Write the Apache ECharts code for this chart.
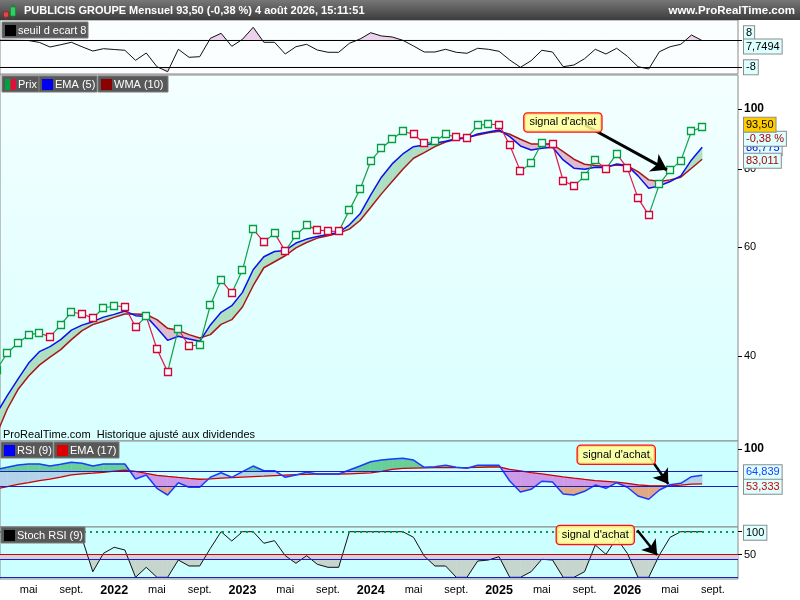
<!DOCTYPE html>
<html><head><meta charset="utf-8"><title>PUBLICIS GROUPE Mensuel</title>
<script src="https://cdn.jsdelivr.net/npm/echarts@6.0.0/dist/echarts.min.js"></script>
<style>html,body{margin:0;padding:0;background:#fff;}#chart{width:800px;height:600px;}</style>
</head><body><div id="chart"></div>
<script>
const FONT = "'Liberation Sans', Arial, sans-serif";
// month index: 0 = janv. 2021 ; first value = févr. 2021, last = août 2026
const firstMonth = 1;
const price = [38.05, 40.47, 42.0, 43.27, 43.59, 42.95, 44.9, 47.11, 46.76, 46.07, 47.81, 48.17, 48.08, 44.57, 46.34, 41.08, 37.73, 44.24, 41.53, 41.69, 48.35, 53.03, 50.54, 55.03, 64.06, 61.05, 63.1, 59.04, 62.63, 65.0, 63.88, 63.57, 63.5, 68.73, 74.27, 82.4, 86.46, 89.39, 92.07, 91.06, 88.08, 88.73, 91.06, 90.06, 89.73, 94.14, 94.5, 94.39, 87.44, 79.43, 81.78, 88.08, 87.84, 76.63, 75.14, 77.95, 82.7, 80.09, 84.66, 80.3, 71.87, 67.48, 75.69, 79.71, 82.5, 92.07, 93.5];
const ema5 = [32.33, 34.56, 36.74, 38.98, 40.67, 41.43, 42.52, 44.04, 44.87, 45.45, 46.22, 46.70, 47.29, 46.47, 46.35, 44.41, 42.41, 43.05, 42.63, 42.26, 44.90, 47.05, 48.22, 50.66, 55.10, 57.82, 58.96, 59.18, 60.83, 61.73, 62.33, 62.80, 63.26, 65.09, 67.79, 72.73, 77.66, 81.58, 84.65, 86.97, 87.52, 88.07, 88.73, 89.59, 89.72, 91.16, 91.84, 92.52, 90.26, 87.20, 85.92, 86.46, 86.78, 82.80, 80.29, 80.00, 80.59, 80.47, 81.58, 81.07, 78.04, 74.56, 75.20, 76.41, 78.04, 82.80, 86.775];
const wma10 = [29.95, 32.88, 35.34, 37.15, 38.69, 39.86, 40.97, 42.52, 43.96, 44.95, 45.53, 46.18, 46.77, 46.74, 46.68, 45.79, 44.34, 44.01, 43.32, 42.79, 43.32, 45.00, 45.79, 47.99, 51.93, 55.51, 56.76, 58.03, 59.77, 60.96, 61.96, 62.49, 63.12, 64.06, 66.13, 69.49, 73.00, 76.41, 80.00, 83.32, 85.06, 86.97, 88.50, 89.39, 90.05, 90.83, 91.60, 92.07, 91.06, 89.39, 87.85, 87.85, 87.75, 85.38, 83.01, 81.49, 81.07, 80.77, 81.28, 80.98, 79.29, 76.89, 76.41, 76.89, 77.66, 80.29, 83.011];
const ecart = [8.0, 8.0, 7.9, 7.8, 6.7, 3.98, 5.34, 6.76, 4.1, 1.62, 2.98, 2.51, 2.04, -3.87, 0.44, -7.64, -10.6, 2.63, -2.1, -1.74, 9.12, 12.07, 4.4, 8.53, 15.6, 6.76, 6.76, -0.15, 4.16, 5.58, 2.21, 0.86, 0.86, 6.17, 8.7, 12.4, 10.5, 9.9, 7.94, 4.57, 1.03, 1.03, 2.63, 0.86, 0.27, 3.22, 2.63, 1.45, -3.69, -8.0, -4.1, 2.04, 1.03, -7.64, -6.64, -2.92, 2.63, -0.15, 3.22, -1.5, -7.64, -9.0, 1.21, 4.16, 5.58, 11.07, 7.7494];
const rsi9 = [72.5, 75.5, 78.4, 79.7, 79.7, 77, 79.3, 82, 80.7, 77, 79.7, 79.7, 79.7, 59.7, 65, 47.3, 38.4, 54.8, 48.7, 48.7, 62, 68.1, 62, 69.5, 77, 70.8, 70.8, 62, 65, 68.7, 66.4, 66.4, 66.4, 71.7, 77, 82.8, 85, 86.5, 87.3, 85, 75.3, 76.1, 78, 75.3, 74, 78, 78, 78, 57.1, 42.4, 46, 56.7, 55.7, 39.7, 38.4, 43.3, 51.7, 47.3, 54.8, 48.7, 37.1, 32.7, 45.1, 52.1, 54, 62.8, 64.839];
const rsiEma17 = [46.5, 49.5, 52.6, 55, 57.5, 59.7, 62.3, 65.2, 66.5, 67.5, 68.6, 70.2, 71.7, 69.8, 67.2, 64.7, 63.2, 61.8, 60.5, 59.4, 60, 60.8, 61.6, 62.3, 63, 63.6, 64.3, 65, 65.5, 66, 66.4, 66.4, 66.4, 66.5, 67.3, 68, 70, 72.5, 74, 74.3, 74.6, 74.8, 74.8, 74.8, 74.8, 75.3, 75.7, 76, 72.5, 70.5, 68.3, 66.5, 64.5, 62.5, 60.8, 59.2, 57.7, 56.7, 55.7, 54, 52, 51, 50.6, 50.6, 51.7, 53, 53.333];
const stochRsi = [100, 100, 100, 100, 100, 100, 100, 100, 85, 12.3, 52.6, 65.8, 59.9, 0, 21.9, 0, 0, 37.9, 24.8, 24.8, 63.6, 100, 79.6, 100, 100, 74.6, 80.3, 47.4, 30.7, 47.4, 28.5, 21.9, 21.9, 100, 100, 100, 100, 100, 100, 87.7, 46.7, 24.8, 24.8, 0, 0, 35.7, 37.9, 45.2, 0, 0, 12.3, 39.5, 37.9, 0, 0, 12.3, 70.8, 50.4, 85.5, 52.6, 0, 0, 48.9, 87.7, 100, 100, 100];
const xTickValues = [4, 8, 12, 16, 20, 24, 28, 32, 36, 40, 44, 48, 52, 56, 60, 64, 68];
const xTickLabels = ['mai', 'sept.', '2022', 'mai', 'sept.', '2023', 'mai', 'sept.', '2024', 'mai', 'sept.', '2025', 'mai', 'sept.', '2026', 'mai', 'sept.'];
const priceTicks = [40, 60, 80, 100];
const priceChangePct = -0.38;
const stampText = '4 août 2026, 15:11:51';

const months = price.map((_, i) => firstMonth + i);
const lg = Math.log10;
const last = a => a[a.length - 1];
const fmt = (v, d) => v.toFixed(d).replace('.', ',');

// ---------- geometry helpers for fills ----------
function clipHalf(poly, yc, keepAbove) {
  const out = []; const n = poly.length;
  for (let i = 0; i < n; i++) {
    const p = poly[i], q = poly[(i + 1) % n];
    const pin = keepAbove ? p[1] <= yc : p[1] >= yc;
    const qin = keepAbove ? q[1] <= yc : q[1] >= yc;
    if (pin) out.push(p);
    if (pin !== qin) { const t = (yc - p[1]) / (q[1] - p[1]); out.push([p[0] + t * (q[0] - p[0]), yc]); }
  }
  return out;
}
function splitBetween(a1, a2, b1, b2) {
  const d1 = b1[1] - a1[1], d2 = b2[1] - a2[1];
  if (d1 * d2 >= 0) return [{ poly: [a1, a2, b2, b1], up: (d1 + d2) > 0 }];
  const t = d1 / (d1 - d2);
  const c = [a1[0] + t * (a2[0] - a1[0]), a1[1] + t * (a2[1] - a1[1])];
  return [{ poly: [a1, c, b1], up: d1 > 0 }, { poly: [c, a2, b2], up: d2 > 0 }];
}
function polyEl(pts, color) {
  return pts.length >= 3 ? { type: 'polygon', shape: { points: pts }, style: { fill: color, stroke: color, lineWidth: 0.4 }, silent: true } : null;
}

// ---------- data for custom series ----------
const seg = (a, b, f) => { const out = []; for (let i = 1; i < months.length; i++) out.push([months[i], f(a[i]), f(b[i]), months[i - 1], f(a[i - 1]), f(b[i - 1])]); return out; };
const id = v => v;
const mainFillData = seg(ema5, wma10, lg);
const rsiFillData = seg(rsi9, rsiEma17, id);
const ecartFillData = []; const stochFillData = [];
for (let i = 1; i < months.length; i++) {
  ecartFillData.push([months[i], ecart[i], months[i - 1], ecart[i - 1]]);
  stochFillData.push([months[i], stochRsi[i], months[i - 1], stochRsi[i - 1]]);
}
const priceData = months.map((m, i) => {
  const j = Math.max(i - 1, 0);
  return [m, lg(price[i]), months[j], lg(price[j]), (i > 0 && price[i] < price[i - 1]) ? 0 : 1, i > 0 ? 1 : 0];
});
const pairs = (arr, f) => months.map((m, i) => [m, f(arr[i])]);

// ---------- axes ----------
const XMIN = 1.32, XMAX = 70.35;
const grids = [
  { left: 0, right: 62, top: 20, height: 54, bg: '#fafefe' },
  { left: 0, right: 62, top: 75, height: 366, bg: { type: 'linear', x: 0, y: 0, x2: 0, y2: 1, colorStops: [{ offset: 0, color: '#f4ffff' }, { offset: 1, color: '#d9ffff' }] } },
  { left: 0, right: 62, top: 441, height: 86, bg: '#ccffff' },
  { left: 0, right: 62, top: 527, height: 52, bg: '#ccffff' }
].map(g => ({ left: g.left, right: g.right, top: g.top, height: g.height, show: true, backgroundColor: g.bg, borderColor: '#8a8a8a', borderWidth: 1, containLabel: false, outerBoundsMode: 'none' }));

const xAxes = [0, 1, 2, 3].map(g => ({
  type: 'value', gridIndex: g, min: XMIN, max: XMAX, show: g === 3,
  axisLine: { show: false }, axisTick: { show: false }, splitLine: { show: false },
  axisLabel: {
    show: g === 3, customValues: xTickValues, margin: 5, fontFamily: FONT,
    formatter: v => { const l = xTickLabels[xTickValues.indexOf(v)] || ''; return /^\d{4}$/.test(l) ? '{y|' + l + '}' : '{m|' + l + '}'; },
    rich: { y: { fontWeight: 'bold', fontSize: 12.5, color: '#000', fontFamily: FONT }, m: { fontSize: 11, color: '#000', fontFamily: FONT } }
  }
}));
const tick = vals => ({ show: true, customValues: vals, length: 4, lineStyle: { color: '#000', width: 1 } });
const yAxes = [
  { type: 'value', gridIndex: 0, position: 'right', min: -11.95, max: 19.92, axisLine: { show: false }, splitLine: { show: false }, axisTick: tick([8, -8]), axisLabel: { show: false } },
  { type: 'value', gridIndex: 1, position: 'right', min: 1.46538, max: 2.05475, axisLine: { show: false }, splitLine: { show: false },
    axisTick: tick(priceTicks.map(lg)),
    axisLabel: { customValues: priceTicks.map(lg), margin: 6, fontFamily: FONT, color: '#000',
      formatter: v => { const n = Math.round(Math.pow(10, v)); return n === 100 ? '{b|' + n + '}' : '{n|' + n + '}'; },
      rich: { b: { fontWeight: 'bold', fontSize: 12, color: '#000', fontFamily: FONT }, n: { fontSize: 11, color: '#000', fontFamily: FONT } } } },
  { type: 'value', gridIndex: 2, position: 'right', min: -4.27, max: 110.4, axisLine: { show: false }, splitLine: { show: false }, axisTick: tick([100]),
    axisLabel: { customValues: [100], margin: 6, fontWeight: 'bold', fontSize: 12, color: '#000', fontFamily: FONT } },
  { type: 'value', gridIndex: 3, position: 'right', min: -3.73, max: 110.3, axisLine: { show: false }, splitLine: { show: false }, axisTick: tick([100, 50]),
    axisLabel: { customValues: [50], margin: 6, fontSize: 11, color: '#000', fontFamily: FONT } }
];

const boxLbl = (text, color, dy, bg) => ({ show: true, position: 'end', distance: 6, formatter: text, color: color, fontSize: 11, fontFamily: FONT,
  backgroundColor: bg || '#dcffff', borderColor: '#8c8c8c', borderWidth: 1, padding: [2, 2, 1, 2], offset: [0, dy] });
const hidden = { color: 'rgba(0,0,0,0)', width: 0 };
const noteLbl = { show: true, position: 'inside', formatter: "signal d'achat", color: '#000', fontSize: 11, fontFamily: FONT,
  backgroundColor: 'rgba(255,255,150,0.85)', borderColor: '#ff1010', borderWidth: 1.3, borderRadius: 3, padding: [4, 5, 3, 5] };
const arrowLine = (w) => ({ color: '#000', width: w, type: 'solid' });

const series = [
  // ---- top: seuil d'ecart ----
  { type: 'custom', xAxisIndex: 0, yAxisIndex: 0, z: 1, clip: true, silent: true, data: ecartFillData,
    renderItem: (p, api) => {
      const p1 = api.coord([api.value(2), api.value(3)]), p2 = api.coord([api.value(0), api.value(1)]);
      const y8 = api.coord([api.value(0), 8])[1], ym8 = api.coord([api.value(0), -8])[1];
      const ch = [polyEl(clipHalf([p1, p2, [p2[0], y8], [p1[0], y8]], y8, true), '#ecd2ec'),
                  polyEl(clipHalf([p1, p2, [p2[0], ym8], [p1[0], ym8]], ym8, false), '#ecd2ec')].filter(Boolean);
      return { type: 'group', children: ch };
    } },
  { type: 'line', xAxisIndex: 0, yAxisIndex: 0, z: 3, clip: true, silent: true, symbol: 'none', data: pairs(ecart, id),
    lineStyle: { color: '#111', width: 1 },
    markLine: { silent: true, symbol: ['none', 'none'], animation: false, lineStyle: { color: '#000', width: 1, type: 'solid' }, label: { show: false },
      data: [ { yAxis: 8, label: boxLbl('8', '#000', -7) }, { yAxis: -8, label: boxLbl('-8', '#000', 0) },
              { yAxis: last(ecart), lineStyle: hidden, label: boxLbl(fmt(last(ecart), 4), '#000', 6) } ] } },

  // ---- main: prix, EMA(5), WMA(10) ----
  { type: 'custom', xAxisIndex: 1, yAxisIndex: 1, z: 1, clip: true, silent: true, data: mainFillData,
    renderItem: (p, api) => {
      const a1 = api.coord([api.value(3), api.value(4)]), a2 = api.coord([api.value(0), api.value(1)]);
      const b1 = api.coord([api.value(3), api.value(5)]), b2 = api.coord([api.value(0), api.value(2)]);
      const ch = splitBetween(a1, a2, b1, b2).map(pc => polyEl(pc.poly, pc.up ? '#ade0c2' : '#ddbccd')).filter(Boolean);
      return { type: 'group', children: ch };
    } },
  { type: 'line', xAxisIndex: 1, yAxisIndex: 1, z: 3, clip: true, silent: true, symbol: 'none', data: pairs(wma10, lg),
    lineStyle: { color: '#a81818', width: 1.5 },
    markLine: { silent: true, symbol: ['none', 'none'], animation: false, label: { show: false },
      data: [ { yAxis: lg(last(ema5)), lineStyle: hidden, label: boxLbl(fmt(last(ema5), 3), '#0000ee', 2) },
              { yAxis: lg(last(wma10)), lineStyle: hidden, label: boxLbl(fmt(last(wma10), 3), '#b00000', 2) },
              { yAxis: lg(last(price)), lineStyle: hidden, label: boxLbl(fmt(priceChangePct, 2) + ' %', '#b00000', 11) },
              { yAxis: lg(last(price)), lineStyle: hidden, label: boxLbl(fmt(last(price), 2), '#000', -3, '#ffcc00') } ] } },
  { type: 'line', xAxisIndex: 1, yAxisIndex: 1, z: 3, clip: true, silent: true, symbol: 'none', data: pairs(ema5, lg),
    lineStyle: { color: '#0a10f0', width: 1.5 } },
  { type: 'custom', xAxisIndex: 1, yAxisIndex: 1, z: 4, clip: true, silent: true, data: priceData,
    renderItem: (p, api) => {
      const pt = api.coord([api.value(0), api.value(1)]);
      const q = api.coord([api.value(2), api.value(3)]);
      const up = api.value(4) === 1;
      const col = up ? '#14a04a' : '#e0184a';
      const ch = [];
      if (api.value(5) === 1) ch.push({ type: 'line', z2: 1, shape: { x1: q[0], y1: q[1], x2: pt[0], y2: pt[1] }, style: { stroke: col, lineWidth: 1.2 } });
      const cx = Math.round(pt[0]), cy = Math.round(pt[1]);
      ch.push({ type: 'rect', z2: 10, shape: { x: cx - 3.5, y: cy - 3.5, width: 7, height: 7 }, style: { fill: '#f0fffe', stroke: up ? '#00a040' : '#dc0036', lineWidth: 1.3 } });
      return { type: 'group', children: ch };
    } },
  { type: 'line', xAxisIndex: 1, yAxisIndex: 1, z: 6, silent: true, symbol: 'none', data: pairs(ema5, lg), lineStyle: hidden,
    markLine: { silent: true, animation: false, symbol: ['none', 'arrow'], symbolSize: 15, lineStyle: arrowLine(3), label: { show: false },
      data: [[{ coord: [56.03, lg(94.25)] }, { coord: [63.70, lg(79.8)] }]] } },
  { type: 'line', xAxisIndex: 1, yAxisIndex: 1, z: 7, silent: true, symbol: 'none', data: pairs(ema5, lg), lineStyle: hidden,
    markPoint: { silent: true, animation: false, symbol: 'rect', symbolSize: 1, itemStyle: { color: 'rgba(0,0,0,0)' }, label: noteLbl,
      data: [{ coord: [53.97, lg(95.13)] }] } },

  // ---- RSI(9) & EMA(17) ----
  { type: 'custom', xAxisIndex: 2, yAxisIndex: 2, z: 1, clip: true, silent: true, data: rsiFillData,
    renderItem: (p, api) => {
      const a1 = api.coord([api.value(3), api.value(4)]), a2 = api.coord([api.value(0), api.value(1)]);
      const b1 = api.coord([api.value(3), api.value(5)]), b2 = api.coord([api.value(0), api.value(2)]);
      const y70 = api.coord([api.value(0), 70])[1], y50 = api.coord([api.value(0), 50])[1];
      const ch = [];
      splitBetween(a1, a2, b1, b2).forEach(pc => {
        if (pc.up) { ch.push(polyEl(clipHalf(pc.poly, y70, true), '#68cf9a')); ch.push(polyEl(clipHalf(pc.poly, y70, false), '#b2d3ea')); }
        else { ch.push(polyEl(clipHalf(pc.poly, y50, true), '#cc9ae8')); ch.push(polyEl(clipHalf(pc.poly, y50, false), '#e2a886')); }
      });
      return { type: 'group', children: ch.filter(Boolean) };
    } },
  { type: 'line', xAxisIndex: 2, yAxisIndex: 2, z: 3, clip: true, silent: true, symbol: 'none', data: pairs(rsiEma17, id),
    lineStyle: { color: '#d00000', width: 1.3 } },
  { type: 'line', xAxisIndex: 2, yAxisIndex: 2, z: 3, clip: true, silent: true, symbol: 'none', data: pairs(rsi9, id),
    lineStyle: { color: '#1a3cff', width: 1.5 },
    markLine: { silent: true, symbol: ['none', 'none'], animation: false, lineStyle: { color: '#1c1cc8', width: 1, type: 'solid' }, label: { show: false },
      data: [ { yAxis: 70 }, { yAxis: 50 },
              { yAxis: last(rsi9), lineStyle: hidden, label: boxLbl(fmt(last(rsi9), 3), '#1a3cff', -3) },
              { yAxis: last(rsiEma17), lineStyle: hidden, label: boxLbl(fmt(last(rsiEma17), 3), '#d00000', 3) } ] } },
  { type: 'line', xAxisIndex: 2, yAxisIndex: 2, z: 6, silent: true, symbol: 'none', data: pairs(rsi9, id), lineStyle: hidden,
    markLine: { silent: true, animation: false, symbol: ['none', 'arrow'], symbolSize: 14, lineStyle: arrowLine(2.5), label: { show: false },
      data: [[{ coord: [62.05, 89.5] }, { coord: [63.83, 53.1] }]] } },
  { type: 'line', xAxisIndex: 2, yAxisIndex: 2, z: 7, silent: true, symbol: 'none', data: pairs(rsi9, id), lineStyle: hidden,
    markPoint: { silent: true, animation: false, symbol: 'rect', symbolSize: 1, itemStyle: { color: 'rgba(0,0,0,0)' }, label: noteLbl,
      data: [{ coord: [58.96, 92.1] }] } },

  // ---- Stoch RSI(9) ----
  { type: 'line', xAxisIndex: 3, yAxisIndex: 3, z: 1, silent: true, symbol: 'none', data: pairs(stochRsi, id), lineStyle: hidden,
    markArea: { silent: true, animation: false, itemStyle: { color: '#d8d0dc' }, data: [[{ yAxis: 40 }, { yAxis: 50 }]] } },
  { type: 'custom', xAxisIndex: 3, yAxisIndex: 3, z: 2, clip: true, silent: true, data: stochFillData,
    renderItem: (p, api) => {
      const p1 = api.coord([api.value(2), api.value(3)]), p2 = api.coord([api.value(0), api.value(1)]);
      const y40 = api.coord([api.value(0), 40])[1];
      const el = polyEl(clipHalf([p1, p2, [p2[0], y40], [p1[0], y40]], y40, false), '#c6d6cf');
      return { type: 'group', children: el ? [el] : [] };
    } },
  { type: 'line', xAxisIndex: 3, yAxisIndex: 3, z: 3, silent: true, symbol: 'none', data: [],
    markLine: { silent: true, symbol: ['none', 'none'], animation: false, label: { show: false },
      data: [ { yAxis: 100, lineStyle: { color: '#00a040', width: 2, type: [2, 4] }, label: boxLbl('100', '#000', 1) },
              { yAxis: 50, lineStyle: { color: '#d00000', width: 1, type: 'solid' } },
              { yAxis: 40, lineStyle: { color: '#1c1cc8', width: 1, type: 'solid' } },
              { yAxis: 0, lineStyle: { color: '#1c1cc8', width: 1, type: 'solid' } } ] } },
  { type: 'line', xAxisIndex: 3, yAxisIndex: 3, z: 4, clip: true, silent: true, symbol: 'none', data: pairs(stochRsi, id),
    lineStyle: { color: '#111', width: 1 } },
  { type: 'line', xAxisIndex: 3, yAxisIndex: 3, z: 6, silent: true, symbol: 'none', data: pairs(stochRsi, id), lineStyle: hidden,
    markLine: { silent: true, animation: false, symbol: ['none', 'arrow'], symbolSize: 14, lineStyle: arrowLine(2.5), label: { show: false },
      data: [[{ coord: [60.93, 103.1] }, { coord: [62.79, 48.9] }]] } },
  { type: 'line', xAxisIndex: 3, yAxisIndex: 3, z: 7, silent: true, symbol: 'none', data: pairs(stochRsi, id), lineStyle: hidden,
    markPoint: { silent: true, animation: false, symbol: 'rect', symbolSize: 1, itemStyle: { color: 'rgba(0,0,0,0)' }, label: noteLbl,
      data: [{ coord: [57.0, 92.8] }] } }
];

// ---------- chrome (title bar, legend tags) ----------
const ZT = 100;
function tag(x, y, w, icons, text) {
  const els = [{ type: 'rect', z: ZT, shape: { x: x, y: y, width: w, height: 16 }, style: { fill: '#585858', stroke: '#7c7c7c', lineWidth: 1 } }];
  const iw = 11 / icons.length;
  icons.forEach((c, k) => els.push({ type: 'rect', z: ZT + 1, shape: { x: x + 3 + k * iw, y: y + 3, width: iw, height: 11 }, style: { fill: c } }));
  els.push({ type: 'text', z: ZT + 2, style: { x: x + 16, y: y + 8.5, text: text, fill: '#fff', font: '11px ' + FONT, textVerticalAlign: 'middle', verticalAlign: 'middle' } });
  return els;
}
const titleText = 'PUBLICIS GROUPE Mensuel ' + fmt(last(price), 2) + ' (' + fmt(priceChangePct, 2) + ' %) ' + stampText;
const graphic = [
  { type: 'rect', z: ZT, shape: { x: 0, y: 0, width: 800, height: 20 },
    style: { fill: new echarts.graphic.LinearGradient(0, 0, 0, 1, [{ offset: 0, color: '#777' }, { offset: 1, color: '#3c3c3c' }]) } },
  { type: 'rect', z: ZT + 1, shape: { x: 5.5, y: 10, width: 1, height: 9 }, style: { fill: '#c03030' } },
  { type: 'rect', z: ZT + 1, shape: { x: 3.5, y: 12, width: 5, height: 5 }, style: { fill: '#e04848', stroke: '#902020', lineWidth: 0.6 } },
  { type: 'rect', z: ZT + 1, shape: { x: 12.5, y: 4, width: 1, height: 15 }, style: { fill: '#108030' } },
  { type: 'rect', z: ZT + 1, shape: { x: 10.5, y: 7, width: 5, height: 9 }, style: { fill: '#30d060', stroke: '#108030', lineWidth: 0.6 } },
  { type: 'text', z: ZT + 1, style: { x: 24, y: 11, text: titleText, fill: '#fff', font: 'bold 11px ' + FONT, verticalAlign: 'middle', textVerticalAlign: 'middle' } },
  { type: 'text', z: ZT + 1, style: { x: 795, y: 11, text: 'www.ProRealTime.com', fill: '#fff', font: 'bold 11.5px ' + FONT, align: 'right', textAlign: 'right', verticalAlign: 'middle', textVerticalAlign: 'middle' } },
  ...tag(2, 22, 86, ['#000'], 'seuil d ecart 8'),
  ...tag(2, 76, 37, ['#00a040', '#e0103a'], 'Prix'),
  ...tag(39, 76, 58, ['#0000ee'], 'EMA (5)'),
  ...tag(98, 76, 70, ['#8b0000'], 'WMA (10)'),
  ...tag(1, 442, 52, ['#0000ff'], 'RSI (9)'),
  ...tag(54, 442, 65, ['#dd0000'], 'EMA (17)'),
  ...tag(1, 527, 84, ['#000'], 'Stoch RSI (9)'),
  { type: 'text', z: ZT, style: { x: 3, y: 435, text: 'ProRealTime.com  Historique ajusté aux dividendes', fill: '#000', font: '11px ' + FONT, verticalAlign: 'middle', textVerticalAlign: 'middle' } }
];

const chart = echarts.init(document.getElementById('chart'), null, { width: 800, height: 600 });
chart.setOption({
  animation: false,
  backgroundColor: '#ffffff',
  textStyle: { fontFamily: FONT },
  grid: grids, xAxis: xAxes, yAxis: yAxes, series: series, graphic: graphic
});
</script></body></html>
